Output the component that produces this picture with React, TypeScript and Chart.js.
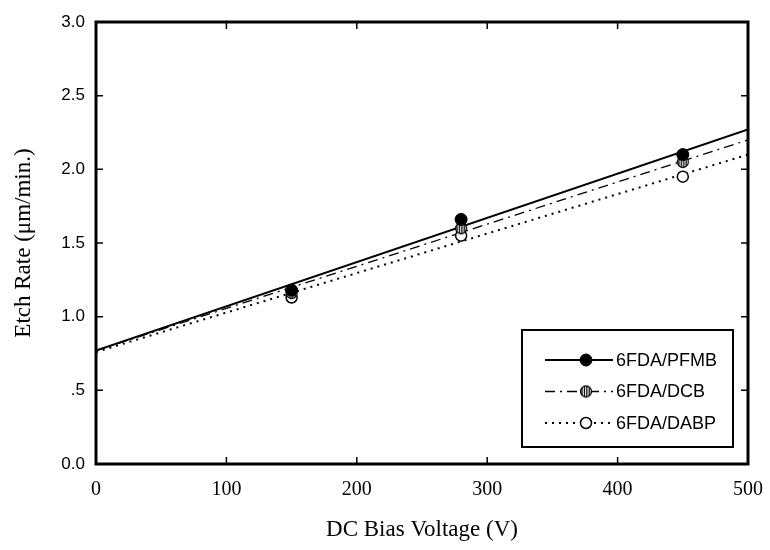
import React, { useEffect, useRef } from "react";
import { Chart, registerables } from "chart.js";

Chart.register(...registerables);

// ---- data ----
const biasVoltage = [150, 280, 450];
const pfmbRate = [1.18, 1.66, 2.1];
const dcbRate = [1.16, 1.6, 2.05];
const dabpRate = [1.13, 1.55, 1.95];

const fitVoltage = [0, 500];
const pfmbFit = [0.77, 2.27];
const dcbFit = [0.77, 2.2];
const dabpFit = [0.76, 2.1];

const seriesNames = ["6FDA/PFMB", "6FDA/DCB", "6FDA/DABP"];
const xTickValues = [0, 100, 200, 300, 400, 500];
const yTickLabels = ["0.0", ".5", "1.0", "1.5", "2.0", "2.5", "3.0"];
const xTitle = "DC Bias Voltage (V)";
const yTitle = "Etch Rate (\u03bcm/min.)";

const SERIF = "'Liberation Serif', 'Times New Roman', serif";
const SANS = "'Liberation Sans', Arial, Helvetica, sans-serif";

function makeHatchMarker(r: number): HTMLCanvasElement {
  const size = Math.ceil(r * 2 + 3);
  const c = document.createElement("canvas");
  c.width = size;
  c.height = size;
  const g = c.getContext("2d")!;
  const cx = size / 2;
  g.save();
  g.beginPath();
  g.arc(cx, cx, r, 0, Math.PI * 2);
  g.fillStyle = "#fff";
  g.fill();
  g.clip();
  g.fillStyle = "#111";
  for (let x = 0; x < size; x += 2.4) {
    g.fillRect(x, 0, 1.3, size);
  }
  g.restore();
  g.beginPath();
  g.arc(cx, cx, r, 0, Math.PI * 2);
  g.lineWidth = 1.3;
  g.strokeStyle = "#000";
  g.stroke();
  return c;
}

const framePlugin = {
  id: "frameAndTicks",
  afterDatasetsDraw(chart: any) {
    const { ctx, chartArea: ca, scales } = chart;
    ctx.save();
    ctx.strokeStyle = "#000";
    ctx.lineWidth = 1.5;
    const tl = 7;
    scales.x.ticks.forEach((t: any) => {
      const px = scales.x.getPixelForValue(t.value);
      ctx.beginPath();
      ctx.moveTo(px, ca.bottom);
      ctx.lineTo(px, ca.bottom - tl);
      ctx.moveTo(px, ca.top);
      ctx.lineTo(px, ca.top + tl);
      ctx.stroke();
    });
    scales.y.ticks.forEach((t: any) => {
      const py = scales.y.getPixelForValue(t.value);
      ctx.beginPath();
      ctx.moveTo(ca.left, py);
      ctx.lineTo(ca.left + tl, py);
      ctx.moveTo(ca.right, py);
      ctx.lineTo(ca.right - tl, py);
      ctx.stroke();
    });
    ctx.lineWidth = 3;
    ctx.strokeRect(ca.left, ca.top, ca.right - ca.left, ca.bottom - ca.top);
    ctx.restore();
  },
};

const legendPlugin = {
  id: "boxLegend",
  afterDraw(chart: any) {
    const { ctx, chartArea: ca } = chart;
    const ds = chart.data.datasets;
    const bw = 211;
    const bh = 117;
    const bx = ca.right - 226;
    const by = ca.top + 308;
    ctx.save();
    ctx.fillStyle = "#fff";
    ctx.fillRect(bx, by, bw, bh);
    ctx.strokeStyle = "#000";
    ctx.lineWidth = 2;
    ctx.strokeRect(bx, by, bw, bh);
    const rows = [30, 61.5, 93];
    for (let i = 0; i < 3; i++) {
      const lineDs = ds[i + 3];
      const ptDs = ds[i];
      const y = by + rows[i];
      ctx.save();
      ctx.strokeStyle = lineDs.borderColor;
      ctx.lineWidth = lineDs.borderWidth;
      ctx.setLineDash(lineDs.borderDash || []);
      ctx.beginPath();
      ctx.moveTo(bx + 23, y);
      ctx.lineTo(bx + 91, y);
      ctx.stroke();
      ctx.restore();
      const mx = bx + 64;
      const style = ptDs.pointStyle;
      if (style instanceof HTMLCanvasElement) {
        ctx.drawImage(style, mx - style.width / 2, y - style.height / 2);
      } else {
        ctx.beginPath();
        ctx.arc(mx, y, ptDs.pointRadius, 0, Math.PI * 2);
        ctx.fillStyle = ptDs.backgroundColor;
        ctx.fill();
        ctx.lineWidth = ptDs.borderWidth;
        ctx.strokeStyle = ptDs.borderColor;
        ctx.stroke();
      }
      ctx.fillStyle = "#000";
      ctx.font = `18px ${SANS}`;
      ctx.textAlign = "left";
      ctx.textBaseline = "middle";
      ctx.fillText(seriesNames[i], bx + 94, y + 1);
    }
    ctx.restore();
  },
};

export default function App() {
  const canvasRef = useRef<HTMLCanvasElement | null>(null);

  useEffect(() => {
    const canvas = canvasRef.current;
    if (!canvas) return;
    const hatch = makeHatchMarker(5.5);
    const pts = (ys: number[]) => biasVoltage.map((x, i) => ({ x, y: ys[i] }));
    const fit = (ys: number[]) => fitVoltage.map((x, i) => ({ x, y: ys[i] }));

    const chart = new Chart(canvas, {
      type: "scatter",
      data: {
        datasets: [
          {
            label: seriesNames[0],
            data: pts(pfmbRate),
            pointRadius: 6,
            pointStyle: "circle",
            backgroundColor: "#000",
            borderColor: "#000",
            borderWidth: 1,
            order: 0,
          },
          {
            label: seriesNames[1],
            data: pts(dcbRate),
            pointRadius: 5.5,
            pointStyle: hatch,
            backgroundColor: "#888",
            borderColor: "#000",
            borderWidth: 1.3,
            order: 1,
          },
          {
            label: seriesNames[2],
            data: pts(dabpRate),
            pointRadius: 5.5,
            pointStyle: "circle",
            backgroundColor: "#fff",
            borderColor: "#000",
            borderWidth: 1.5,
            order: 2,
          },
          {
            label: seriesNames[0] + " fit",
            data: fit(pfmbFit),
            showLine: true,
            pointRadius: 0,
            borderColor: "#000",
            borderWidth: 2,
            borderDash: [],
            order: 3,
          },
          {
            label: seriesNames[1] + " fit",
            data: fit(dcbFit),
            showLine: true,
            pointRadius: 0,
            borderColor: "#000",
            borderWidth: 1.3,
            borderDash: [10, 5, 2, 5],
            order: 3,
          },
          {
            label: seriesNames[2] + " fit",
            data: fit(dabpFit),
            showLine: true,
            pointRadius: 0,
            borderColor: "#000",
            borderWidth: 2,
            borderDash: [2, 5],
            order: 3,
          },
        ],
      },
      options: {
        animation: false,
        responsive: true,
        maintainAspectRatio: false,
        layout: { padding: { left: 0, top: 22, right: 22, bottom: 0 } },
        plugins: {
          legend: { display: false },
          tooltip: { enabled: false },
        },
        scales: {
          x: {
            type: "linear",
            min: xTickValues[0],
            max: xTickValues[xTickValues.length - 1],
            afterFit: (s: any) => {
              s.height = 86;
              s.paddingLeft = 0;
              s.paddingRight = 0;
            },
            afterBuildTicks: (s: any) => {
              s.ticks = xTickValues.map((v) => ({ value: v }));
            },
            grid: { display: false },
            border: { display: false },
            ticks: {
              color: "#000",
              font: { family: SERIF, size: 20 },
              padding: 6,
              maxRotation: 0,
              callback: (v: any) => String(v),
            },
            title: {
              display: true,
              text: xTitle,
              color: "#000",
              font: { family: SERIF, size: 23 },
              padding: { top: 0, bottom: 6 },
            },
          },
          y: {
            type: "linear",
            min: 0,
            max: 3,
            afterFit: (s: any) => {
              s.width = 96;
              s.paddingTop = 0;
              s.paddingBottom = 0;
            },
            grid: { display: false },
            border: { display: false },
            ticks: {
              stepSize: 0.5,
              color: "#000",
              font: { family: SANS, size: 17 },
              padding: 3,
              callback: (_v: any, i: number) => yTickLabels[i],
            },
            title: {
              display: true,
              text: yTitle,
              color: "#000",
              font: { family: SERIF, size: 23 },
              padding: { top: 10, bottom: 0 },
            },
          },
        },
      },
      plugins: [framePlugin, legendPlugin],
    } as any);

    return () => chart.destroy();
  }, []);

  return (
    <div style={{ position: "absolute", left: 0, top: 0, width: 770, height: 550, background: "#fff" }}>
      <canvas ref={canvasRef} />
    </div>
  );
}
